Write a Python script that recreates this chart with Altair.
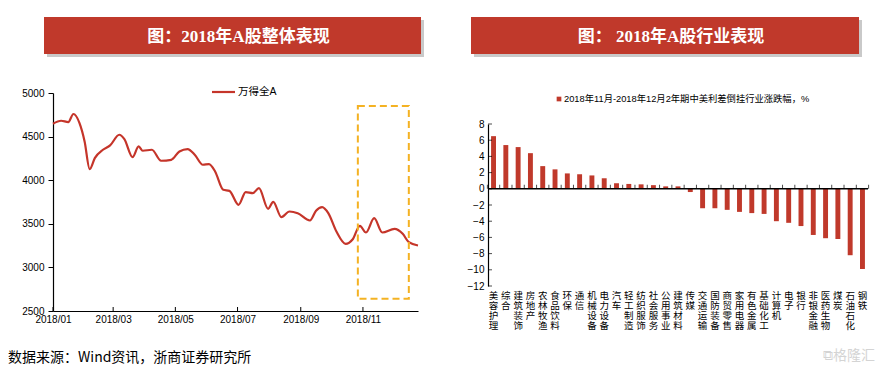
import altair as alt
import pandas as pd

# ---------------- data ----------------
# Left: Wind All A index
dates = ["2018-01-01", "2018-01-09", "2018-01-16", "2018-01-21", "2018-01-27", "2018-02-01",
         "2018-02-06", "2018-02-11", "2018-02-19", "2018-02-26", "2018-03-07", "2018-03-12",
         "2018-03-20", "2018-03-26", "2018-03-30", "2018-04-08", "2018-04-17", "2018-04-27",
         "2018-05-05", "2018-05-13", "2018-05-20", "2018-05-28", "2018-06-03", "2018-06-09",
         "2018-06-17", "2018-06-23", "2018-07-02", "2018-07-09", "2018-07-16", "2018-07-22",
         "2018-07-31", "2018-08-05", "2018-08-13", "2018-08-21", "2018-08-29", "2018-09-10",
         "2018-09-16", "2018-09-22", "2018-09-28", "2018-10-06", "2018-10-15", "2018-10-22",
         "2018-10-29", "2018-11-04", "2018-11-12", "2018-11-20", "2018-12-02", "2018-12-10",
         "2018-12-16", "2018-12-25"]
index_values = [4648, 4682, 4667, 4759, 4655, 4445,
                4127, 4253, 4349, 4399, 4521, 4472,
                4265, 4387, 4338, 4349, 4223, 4234,
                4330, 4357, 4292, 4177, 4185, 4100,
                3890, 3878, 3718, 3863, 3852, 3909,
                3672, 3752, 3576, 3641, 3622, 3538,
                3649, 3691, 3622, 3411, 3270, 3323,
                3476, 3400, 3564, 3400, 3442, 3385,
                3289, 3251]
x_tick_dates = ["2018-01-01", "2018-03-01", "2018-05-01", "2018-07-01", "2018-09-01", "2018-11-01"]
y_ticks_left = [2500, 3000, 3500, 4000, 4500, 5000]
box_dates = ["2018-10-27", "2018-12-16"]
box_values = [2640, 4850]

# Right: industry returns
industries = ["美容护理", "综合", "建筑装饰", "房地产", "农林牧渔", "食品饮料", "环保", "通信",
              "机械设备", "电力设备", "汽车", "轻工制造", "纺织服饰", "社会服务", "公用事业",
              "建筑材料", "传媒", "交通运输", "国防装备", "商贸零售", "家用电器", "有色金属",
              "基础化工", "计算机", "电子", "银行", "非银金融", "医药生物", "煤炭", "石油石化", "钢铁"]
changes = [6.5, 5.4, 5.15, 4.4, 2.8, 2.4, 1.9, 1.8,
           1.65, 1.3, 0.7, 0.6, 0.55, 0.45, 0.3,
           0.3, -0.4, -2.4, -2.4, -2.6, -2.85, -3.0,
           -3.1, -4.0, -4.2, -4.6, -5.7, -6.1, -6.2, -8.2, -9.9]
y_ticks_right = [-12, -10, -8, -6, -4, -2, 0, 2, 4, 6, 8]

# ---------------- style ----------------
RED = "#C0392B"
LINE_RED = "#C5352A"
SANS = "Liberation Sans, Noto Sans CJK SC"
CJK = "Noto Sans CJK SC"
TITLE_FONT = "Liberation Serif, Noto Sans CJK SC"
ONE = alt.Data(values=[{}])

LW, LH = 365, 218          # left plot area
RW, RH = 380, 193          # right panel area (plot occupies the lower 162 px)
R_TOP = 31                 # right y-axis top offset


def dt(s):
    y, m, d = [int(p) for p in s.split("-")]
    return alt.DateTime(year=y, month=m, date=d)


def banner(x0, x1, y0, y1, text):
    shadow = alt.Chart(ONE).mark_rect(color="#9c9c9c", opacity=0.55).encode(
        x=alt.value(x0 + 3), x2=alt.value(x1 + 3), y=alt.value(y0 + 3), y2=alt.value(y1 + 3))
    rect = alt.Chart(ONE).mark_rect(color=RED).encode(
        x=alt.value(x0), x2=alt.value(x1), y=alt.value(y0), y2=alt.value(y1))
    label = alt.Chart(ONE).mark_text(
        color="white", font=TITLE_FONT, fontSize=17, fontWeight="bold", baseline="middle"
    ).encode(x=alt.value((x0 + x1) / 2 + 6), y=alt.value((y0 + y1) / 2 + 1), text=alt.value(text))
    return [shadow, rect, label]


# ---------------- left chart ----------------
line_df = pd.DataFrame({"date": pd.to_datetime(dates), "value": index_values})
xscale_l = alt.Scale(domain=[dt("2018-01-01"), dt("2018-12-25")])
x_axis_l = alt.Axis(values=[dt(s) for s in x_tick_dates], format="%Y/%m", tickSize=0,
                    labelPadding=3, labelFlush=False, labelOverlap=False)
y_axis_l = alt.Axis(values=y_ticks_left, format="d", tickSize=5, labelPadding=4,
                    labelOverlap=False)

line = alt.Chart(line_df).mark_line(color=LINE_RED, strokeWidth=2.2, interpolate="monotone").encode(
    x=alt.X("date:T", scale=xscale_l, title=None, axis=x_axis_l),
    y=alt.Y("value:Q", scale=alt.Scale(domain=[2500, 5000], zero=False, nice=False), title=None,
            axis=y_axis_l),
)

tick_df = pd.DataFrame({"date": pd.to_datetime(x_tick_dates)})
xticks_l = alt.Chart(tick_df).mark_rule(color="black", strokeWidth=1).encode(
    x=alt.X("date:T", title=None, axis=x_axis_l), y=alt.value(LH), y2=alt.value(LH - 4))

box_df = pd.DataFrame({"s": [pd.Timestamp(box_dates[0])], "e": [pd.Timestamp(box_dates[1])],
                       "lo": [box_values[0]], "hi": [box_values[1]]})
box = alt.Chart(box_df).mark_rect(fillOpacity=0, stroke="#F4B223", strokeWidth=2,
                                  strokeDash=[7, 4]).encode(
    x=alt.X("s:T", title=None, axis=x_axis_l), x2="e:T",
    y=alt.Y("lo:Q", title=None, axis=y_axis_l), y2="hi:Q")

leg_line = alt.Chart(ONE).mark_rule(color=LINE_RED, strokeWidth=2.2).encode(
    x=alt.value(159), x2=alt.value(182), y=alt.value(-1))
leg_text = alt.Chart(ONE).mark_text(align="left", baseline="middle", font=SANS, fontSize=10.5,
                                    color="black").encode(
    x=alt.value(185), y=alt.value(-1), text=alt.value("万得全A"))

footer = alt.Chart(ONE).mark_text(align="left", baseline="middle", font=CJK, fontSize=14,
                                  color="black").encode(
    x=alt.value(-45), y=alt.value(265), text=alt.value("数据来源：Wind资讯，浙商证券研究所"))

left = alt.layer(
    *banner(-9, 368, -76, -39, "图：2018年A股整体表现"),
    line, xticks_l, box, leg_line, leg_text, footer,
).properties(width=LW, height=LH)

# ---------------- right chart ----------------
bar_df = pd.DataFrame({"industry": industries, "change": changes})
xscale_r = alt.Scale(paddingInner=0.6, paddingOuter=0.25)
step = RW / (len(industries) - 0.6 + 0.5)
x_axis_r = alt.Axis(labelExpr="split(datum.value, '')", labelAngle=0, labelLineHeight=10,
                    labelFont=CJK, labelFontSize=9.5, ticks=False, domain=False,
                    labelPadding=4, labelOverlap=False)
y_axis_r = alt.Axis(values=y_ticks_right, tickSize=0, labelPadding=4, labelOverlap=False,
                    labelFlush=False)
yscale_r = alt.Scale(domain=[-12, 8], nice=False, range=[RH, R_TOP])

bars = alt.Chart(bar_df).mark_bar(color=RED).encode(
    x=alt.X("industry:N", sort=industries, scale=xscale_r, title=None, axis=x_axis_r),
    y=alt.Y("change:Q", scale=yscale_r, title=None, axis=y_axis_r),
)

zero_y = alt.YDatum(0, axis=y_axis_r, scale=yscale_r, title=None)

zero = alt.Chart(ONE).mark_rule(color="black", strokeWidth=1.5).encode(
    y=zero_y, x=alt.value(0), x2=alt.value(RW))

cat_ticks = alt.Chart(bar_df).mark_tick(orient="vertical", color="black", size=4, thickness=1,
                                        xOffset=-step / 2, yOffset=-2).encode(
    x=alt.X("industry:N", sort=industries, title=None, axis=x_axis_r), y=zero_y)
end_tick = alt.Chart(bar_df).transform_filter(
    alt.datum.industry == industries[-1]
).mark_tick(orient="vertical", color="black", size=4, thickness=1,
            xOffset=step / 2, yOffset=-2).encode(
    x=alt.X("industry:N", sort=industries, title=None, axis=x_axis_r), y=zero_y)

ytick_df = pd.DataFrame({"change": y_ticks_right})
yticks_r = alt.Chart(ytick_df).mark_tick(orient="horizontal", color="black", size=4, thickness=1,
                                         xOffset=2).encode(
    y=alt.Y("change:Q", title=None, axis=y_axis_r), x=alt.value(0))

leg_sq = alt.Chart(ONE).mark_square(color=RED, size=22, opacity=1).encode(
    x=alt.value(71), y=alt.value(6))
leg_txt = alt.Chart(ONE).mark_text(align="left", baseline="middle", font=SANS, fontSize=9.3,
                                   color="black").encode(
    x=alt.value(76), y=alt.value(6),
    text=alt.value("2018年11月-2018年12月2年期中美利差倒挂行业涨跌幅，%"))

watermark = alt.Chart(ONE).mark_text(align="left", baseline="middle", font=CJK, fontSize=14,
                                     color="#d4d4d4").encode(
    x=alt.value(335), y=alt.value(263), text=alt.value("⧉格隆汇"))

right = alt.layer(
    *banner(-17, 371, -76, -39, "图： 2018年A股行业表现"),
    bars, zero, cat_ticks, end_tick, yticks_r, leg_sq, leg_txt, watermark,
).properties(width=RW, height=RH)

chart = alt.hconcat(left, right, spacing=43).properties(
    padding={"left": 0, "top": 9, "right": 0, "bottom": 0}
).configure_view(stroke=None).configure_axis(
    labelFont=SANS, labelFontSize=10, labelColor="black", domainColor="black",
    tickColor="black", grid=False, domainWidth=1.2, labelOverlap=False
)

chart.save("out.html", embed_options={"renderer": "svg", "actions": False})
